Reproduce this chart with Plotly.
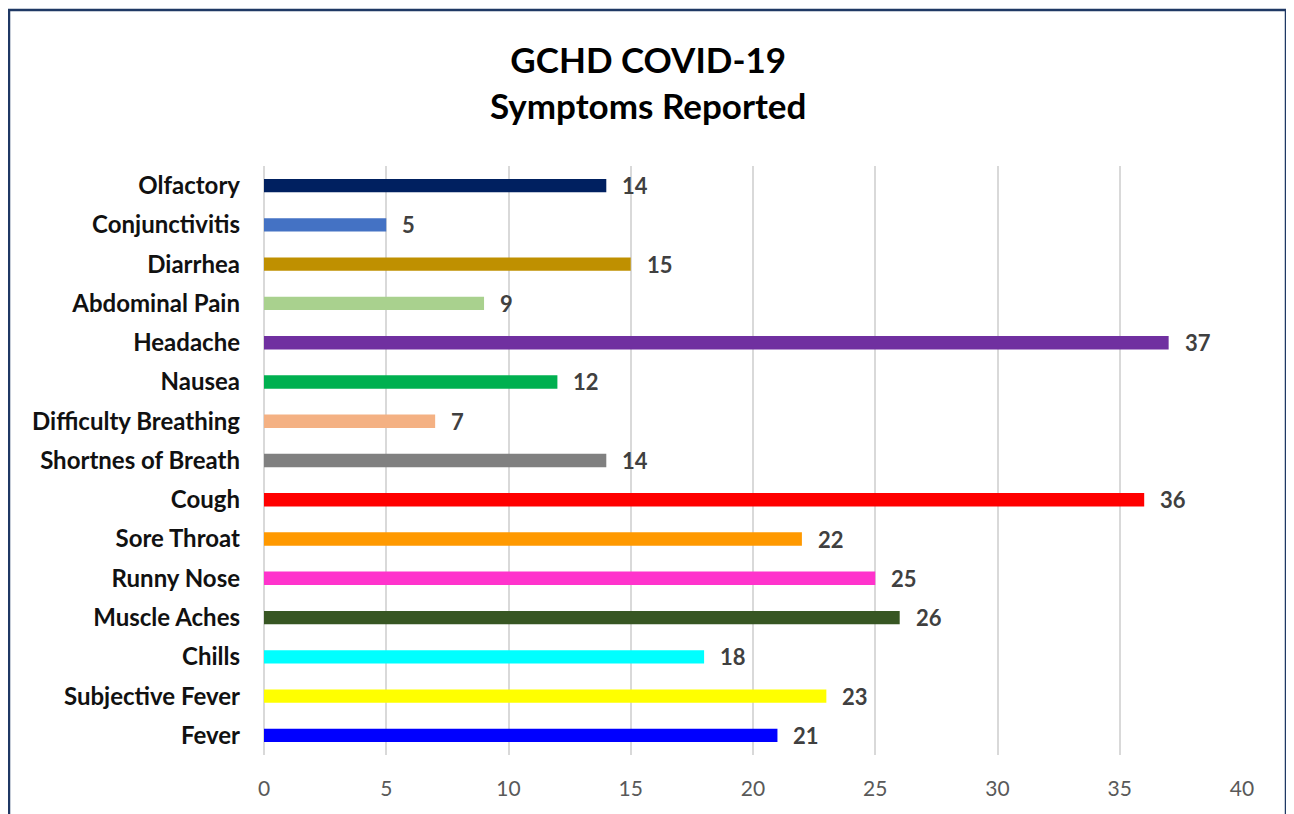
import plotly.graph_objects as go

categories = ["Fever", "Subjective Fever", "Chills", "Muscle Aches", "Runny Nose",
              "Sore Throat", "Cough", "Shortnes of Breath", "Difficulty Breathing",
              "Nausea", "Headache", "Abdominal Pain", "Diarrhea", "Conjunctivitis", "Olfactory"]
values = [21, 23, 18, 26, 25, 22, 36, 14, 7, 12, 37, 9, 15, 5, 14]
colors = ["#0000FF", "#FFFF00", "#00FFFF", "#375623", "#FF33CC",
          "#FF9900", "#FF0000", "#808080", "#F4B183",
          "#00B050", "#7030A0", "#A9D18E", "#BF9000", "#4472C4", "#002060"]
x_ticks = [0, 5, 10, 15, 20, 25, 30, 35, 40]

W, H = 1294, 814
OFF = 8  # page body margin
L, R, T, B = 264 - OFF, 52 + OFF, 166 - OFF, 59 + OFF
pw, ph = W - L - R, H - T - B

fig = go.Figure()
fig.add_trace(go.Bar(
    x=values, y=categories, orientation="h",
    marker=dict(color=colors, line=dict(width=0)),
    width=0.34, hoverinfo="x+y",
))

for c, v in zip(categories, values):
    fig.add_annotation(x=v, y=c, text=str(v), showarrow=False,
                       xanchor="left", xshift=14,
                       font=dict(family="Lato", size=22, color="#404040", weight="bold"))

# title (centre of the two lines at ~y=82 in the page)
fig.add_annotation(xref="paper", yref="paper", x=(648 - OFF - L) / pw,
                   y=(H - B - (82 - OFF)) / ph,
                   yanchor="middle", xanchor="center", showarrow=False,
                   text="<b>GCHD COVID-19</b><br><b>Symptoms Reported</b>",
                   font=dict(family="Lato", size=35, color="#000000"))

# outer frame
fig.add_shape(type="rect", xref="paper", yref="paper",
              x0=(9 - OFF - L) / pw, x1=(1286 - OFF - L) / pw,
              y0=(H - B - 840) / ph, y1=(H - B - (10 - OFF)) / ph,
              line=dict(color="#1F3864", width=2.5), fillcolor="rgba(0,0,0,0)", layer="below")

fig.update_layout(
    width=W, height=H,
    margin=dict(l=L, r=R, t=T, b=B, pad=0),
    paper_bgcolor="white", plot_bgcolor="white",
    showlegend=False,
    xaxis=dict(range=[0, 40], tickvals=x_ticks, showgrid=True, gridcolor="#D9D9D9", gridwidth=1.5,
               zeroline=True, zerolinecolor="#D9D9D9", zerolinewidth=1.5,
               showline=False, ticks="", ticklabelstandoff=19,
               tickfont=dict(family="Lato", size=21, color="#595959"), fixedrange=True),
    yaxis=dict(categoryorder="array", categoryarray=categories, showgrid=False,
               zeroline=False, showline=False, ticks="", ticklabelstandoff=23,
               tickfont=dict(family="Lato", size=24, color="#111111", weight="bold"),
               range=[-0.5, 14.5], fixedrange=True),
)

fig.write_html("out.html")
